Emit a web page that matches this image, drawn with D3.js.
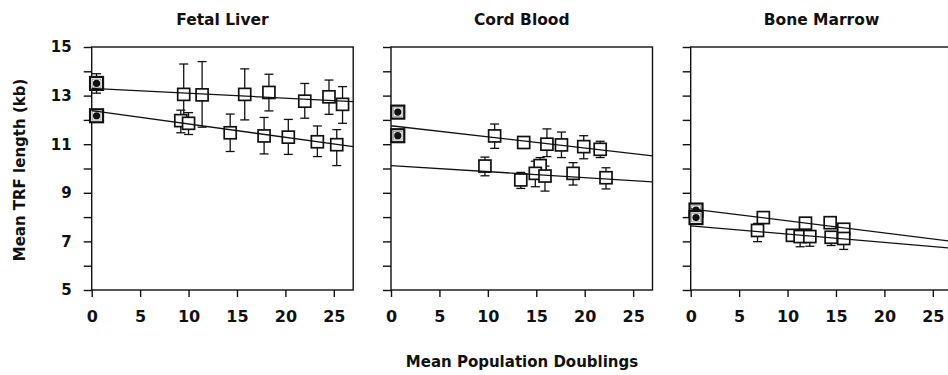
<!DOCTYPE html>
<html>
<head>
<meta charset="utf-8">
<script src="https://cdn.jsdelivr.net/npm/d3@7/dist/d3.min.js"></script>
<style>
  html, body { margin: 0; padding: 0; background: #fff; }
  svg text { font-family: "DejaVu Sans", "Liberation Sans", sans-serif; font-weight: bold; fill: #111; }
</style>
</head>
<body>
<svg id="chart" width="948" height="375"></svg>
<script>
// panel titles and tick labels
const panelTitles = ["Fetal Liver", "Cord Blood", "Bone Marrow"];
const xTickValues = [0, 5, 10, 15, 20, 25];
const yTickValues = [5, 6, 7, 8, 9, 10, 11, 12, 13, 14, 15];
const yTickLabels = [5, 7, 9, 11, 13, 15];

// each point: [mean PD, mean TRF (kb), lower error, upper error]
// day-0 (filled) points
const fetalStart = [[0.5, 13.5, 13.1, 13.9], [0.5, 12.17, 12.17, 12.17]];
const fetalUpper = [[9.5, 13.05, 11.8, 14.3], [11.4, 13.03, 11.7, 14.4], [15.8, 13.05, 12.0, 14.1],
  [18.3, 13.13, 12.37, 13.88], [22.0, 12.77, 12.07, 13.5], [24.5, 12.95, 12.23, 13.64], [25.9, 12.64, 11.86, 13.37]];
const fetalLower = [[9.2, 11.97, 11.47, 12.4], [10.0, 11.86, 11.4, 12.3], [14.3, 11.47, 10.7, 12.24],
  [17.8, 11.34, 10.6, 12.1], [20.3, 11.29, 10.58, 12.02], [23.3, 11.1, 10.49, 11.75], [25.3, 10.98, 10.12, 11.6]];
const fetalFits = [[[0, 13.3], [27, 12.75]], [[0, 12.38], [27, 10.9]]];

const cordStart = [[0.7, 12.32, 12.32, 12.32], [0.7, 11.35, 11.12, 11.55]];
const cordUpper = [[10.7, 11.34, 10.83, 11.83], [13.7, 11.07, 11.0, 11.14], [16.1, 11.0, 10.49, 11.63],
  [17.6, 10.97, 10.45, 11.5], [19.9, 10.9, 10.4, 11.35], [21.6, 10.79, 10.45, 11.12]];
const cordLower = [[9.7, 10.1, 9.7, 10.47], [13.4, 9.53, 9.18, 9.84], [15.4, 10.12, 9.9, 10.45], [14.9, 9.8, 9.25, 10.3],
  [15.9, 9.69, 9.07, 10.1], [18.8, 9.8, 9.32, 10.24], [22.2, 9.62, 9.16, 10.03]];
const cordFits = [[[0, 11.76], [27, 10.52]], [[0, 10.12], [27, 9.45]]];

const marrowStart = [[0.55, 8.29, 8.29, 8.29], [0.55, 7.98, 7.98, 7.98]];
const marrowUpper = [[7.5, 7.98, 7.8, 8.15], [11.85, 7.75, 7.6, 7.9], [14.4, 7.77, 7.6, 7.95], [15.8, 7.5, 7.3, 7.7]];
const marrowLower = [[6.9, 7.45, 6.99, 7.74], [10.5, 7.25, 7.0, 7.45], [11.3, 7.2, 6.78, 7.45],
  [12.3, 7.2, 6.8, 7.4], [14.5, 7.17, 6.83, 7.4], [15.8, 7.12, 6.67, 7.4]];
const marrowFits = [[[0, 8.34], [27, 7.0]], [[0, 7.64], [27, 6.72]]];

const panels = [
  {title: panelTitles[0], start: fetalStart, series: [fetalUpper, fetalLower], fits: fetalFits},
  {title: panelTitles[1], start: cordStart, series: [cordUpper, cordLower], fits: cordFits},
  {title: panelTitles[2], start: marrowStart, series: [marrowUpper, marrowLower], fits: marrowFits}
];

//layout
const lefts = [91.7, 391, 690.7];
const [pw, plotTop, plotBottom] = [261.5, 47, 290];
const ink = "#111";

const svg = d3.select("#chart");

const y = d3.scaleLinear().domain([5, 15]).range([plotBottom, plotTop]);

panels.forEach((p, i) => {
  const x = d3.scaleLinear().domain([0, 27]).range([lefts[i], lefts[i] + pw]);
  const g = svg.append("g");

  //frame
  g.append("rect").attr("x", lefts[i]).attr("y", plotTop).attr("width", pw).attr("height", plotBottom - plotTop)
    .attr("fill", "none").attr("stroke", ink).attr("stroke-width", 1.4);

  //axes
  const yAxis = d3.axisLeft(y).tickValues(yTickValues).tickSize(8).tickPadding(12)
    .tickFormat(d => (i === 0 && yTickLabels.includes(d)) ? d : "");
  const xAxis = d3.axisBottom(x).tickValues(xTickValues).tickSize(7).tickPadding(14);
  const ya = g.append("g").attr("transform", `translate(${lefts[i]},0)`).call(yAxis);
  const xa = g.append("g").attr("transform", `translate(0,${plotBottom})`).call(xAxis);
  [ya, xa].forEach(a => {
    a.select(".domain").remove();
    a.selectAll("line").attr("stroke", ink).attr("stroke-width", 1.4);
    a.selectAll("text").attr("font-family", null).style("fill", ink);
  });
  ya.selectAll("text").attr("font-size", 15);
  xa.selectAll("text").attr("font-size", 16);

  //title
  g.append("text").attr("x", lefts[i] + pw / 2).attr("y", 25).attr("text-anchor", "middle")
    .attr("font-size", 15.5).text(p.title);

  //error bars
  const allPts = p.series.flat().concat(p.start);
  const bars = g.selectAll(".err").data(allPts.filter(d => d[3] - d[2] > 0.05)).enter().append("g");
  bars.append("line").attr("x1", d => x(d[0])).attr("x2", d => x(d[0]))
    .attr("y1", d => y(d[2])).attr("y2", d => y(d[3])).attr("stroke", ink).attr("stroke-width", 1.3);
  [2, 3].forEach(k => {
    bars.append("line").attr("x1", d => x(d[0]) - 4.5).attr("x2", d => x(d[0]) + 4.5)
      .attr("y1", d => y(d[k])).attr("y2", d => y(d[k])).attr("stroke", ink).attr("stroke-width", 1.3);
  });

  //open squares
  g.selectAll(".sq").data(p.series.flat()).enter().append("rect")
    .attr("x", d => x(d[0]) - 6).attr("y", d => y(d[1]) - 6).attr("width", 12).attr("height", 12)
    .attr("fill", "#fff").attr("stroke", ink).attr("stroke-width", 1.7);

  //filled day-0 markers
  const st = g.selectAll(".st").data(p.start).enter().append("g");
  st.append("rect").attr("x", d => x(d[0]) - 6.5).attr("y", d => y(d[1]) - 6.5).attr("width", 13).attr("height", 13)
    .attr("fill", "#fff").attr("stroke", ink).attr("stroke-width", 2.2);
  st.append("rect").attr("x", d => x(d[0]) - 4.3).attr("y", d => y(d[1]) - 4.3).attr("width", 8.6).attr("height", 8.6)
    .attr("fill", "none").attr("stroke", "#888").attr("stroke-width", 0.7);
  st.append("circle").attr("cx", d => x(d[0])).attr("cy", d => y(d[1])).attr("r", 3.6).attr("fill", ink);

  //regression lines
  const line = d3.line().x(d => x(d[0])).y(d => y(d[1]));
  g.selectAll(".fit").data(p.fits).enter().append("path").attr("d", line)
    .attr("fill", "none").attr("stroke", ink).attr("stroke-width", 1.3);
});

//axis titles
svg.append("text").attr("transform", "translate(25,170) rotate(-90)").attr("text-anchor", "middle")
  .attr("font-size", 15).text("Mean TRF length (kb)");
svg.append("text").attr("x", 522).attr("y", 367).attr("text-anchor", "middle")
  .attr("font-size", 15).text("Mean Population Doublings");
</script>
</body>
</html>
